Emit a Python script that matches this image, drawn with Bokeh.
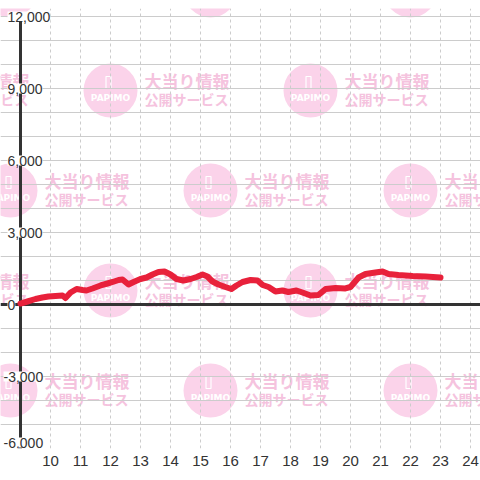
from bokeh.plotting import figure
from bokeh.models import (Range1d, FixedTicker, Span, LabelSet, ColumnDataSource,
                          Grid, BoxAnnotation)
from bokeh.core.properties import value
from bokeh.embed import file_html
from bokeh.resources import INLINE

# ---- data ----
hours = [9.0, 9.23, 9.5, 9.73, 9.93, 10.17, 10.4, 10.5, 10.67, 10.87, 11.07, 11.2,
         11.4, 11.67, 11.9, 12.07, 12.27, 12.4, 12.6, 12.77, 13.0, 13.2, 13.4, 13.6,
         13.8, 14.0, 14.2, 14.43, 14.67, 14.87, 15.07, 15.23, 15.4, 15.6, 15.83, 16.03,
         16.2, 16.4, 16.67, 16.9, 17.07, 17.27, 17.5, 17.73, 17.93, 18.2, 18.4, 18.67,
         18.93, 19.17, 19.5, 19.83, 20.0, 20.27, 20.5, 20.83, 21.07, 21.27, 21.6, 22.07,
         22.5, 23.0]
balance = [40, 125, 229, 292, 333, 354, 375, 271, 500, 646, 604, 583,
           667, 792, 875, 938, 1021, 1042, 833, 938, 1063, 1125, 1250, 1354,
           1375, 1250, 1063, 1000, 1063, 1146, 1250, 1167, 958, 833, 729, 646,
           792, 938, 1021, 1000, 813, 729, 542, 583, 521, 583, 500, 375,
           396, 646, 688, 667, 729, 1125, 1271, 1333, 1375, 1271, 1229, 1188,
           1167, 1125]
y_ticks = [-6000, -3000, 0, 3000, 6000, 9000, 12000]
x_ticks = list(range(10, 25))
y_labels = [f"{v:,}" for v in y_ticks]
grid_steps = [v for v in range(-6000, 12001, 1000) if v != 0]
x_axis_at = 9
wm_line1 = "大当り情報"
wm_line2 = "公開サービス"
wm_logo = "PAPIMO"

# ---- figure: 30 px per hour, 24 px per 1000 ----
PXH = 30.0
PXV = 0.024
X0 = x_axis_at - 20 / PXH
X1 = x_axis_at + 460 / PXH
Y0 = -6000
Y1 = 12000 + 8 / PXV
FRAME_TOP, FRAME_BOTTOM = 8, 448
p = figure(width=480, height=480, output_backend="svg", toolbar_location=None,
           x_range=Range1d(X0, X1), y_range=Range1d(Y0, Y1),
           y_axis_location=None, x_axis_location="below",
           min_border_left=0, min_border_right=0, min_border_top=8, min_border_bottom=32,
           background_fill_color="white", border_fill_color="white")
p.outline_line_color = None

# ---- watermark (background decoration, placed in pixels) ----
def dx(px):
    return x_axis_at + (px - 20) / PXH

def dy(py):
    return (304 - py) / PXV

def inside(py):
    return FRAME_TOP + 4 <= py <= FRAME_BOTTOM - 4

wm_cx, wm_cy = [], []
for i, cy in enumerate(range(-10, 491, 100)):
    for cx in ([10, 210, 410] if i % 2 == 0 else [-90, 110, 310]):
        wm_cx.append(cx)
        wm_cy.append(cy)

circ = [(cx, cy) for cx, cy in zip(wm_cx, wm_cy) if cy - 27 < FRAME_BOTTOM and cx + 27 > 0]
p.scatter([dx(c[0]) for c in circ], [dy(c[1]) for c in circ], size=54,
          fill_color="#fbd3ea", line_color=None, level="image")
icon = [(cx, cy) for cx, cy in circ if inside(cy - 8) and cx > 0]
p.rect([dx(c[0] - 2) for c in icon], [dy(c[1] - 8) for c in icon], width=5, height=12,
       width_units="screen", height_units="screen", fill_color=None,
       line_color="white", line_width=1.2, level="image")
logo = [(cx, cy) for cx, cy in circ if inside(cy + 7) and cx > 0]
p.text([dx(c[0]) for c in logo], [dy(c[1] + 7) for c in logo], text=[wm_logo] * len(logo),
       text_font=value("DejaVu Sans"), text_font_size="9px", text_font_style="bold",
       text_color="white", text_align="center", text_baseline="middle", level="image")
t1 = [(cx, cy) for cx, cy in zip(wm_cx, wm_cy) if inside(cy - 10)]
p.text([dx(c[0] + 34) for c in t1], [dy(c[1] - 10) for c in t1], text=[wm_line1] * len(t1),
       text_font=value("Noto Sans CJK JP"), text_font_size="17px", text_font_style="bold",
       text_color="#f5c3de", text_align="left", text_baseline="middle", level="image")
t2 = [(cx, cy) for cx, cy in zip(wm_cx, wm_cy) if inside(cy + 8)]
p.text([dx(c[0] + 34) for c in t2], [dy(c[1] + 8) for c in t2], text=[wm_line2] * len(t2),
       text_font=value("Noto Sans CJK JP"), text_font_size="14px", text_font_style="bold",
       text_color="#f5c3de", text_align="left", text_baseline="middle", level="image")

# ---- grids ----
if len(p.xgrid) == 0:
    p.add_layout(Grid(dimension=0))
if len(p.ygrid) == 0:
    p.add_layout(Grid(dimension=1))
p.xgrid.ticker = FixedTicker(ticks=x_ticks)
p.xgrid.grid_line_color = "#cccccc"
p.xgrid.grid_line_dash = "3 3"
p.xgrid.grid_line_width = 1
p.ygrid.ticker = FixedTicker(ticks=grid_steps)
p.ygrid.grid_line_color = "#cccccc"
p.ygrid.grid_line_width = 1

# ---- axis lines ----
p.add_layout(BoxAnnotation(left=x_axis_at - 1.5 / PXH, right=x_axis_at + 1.5 / PXH,
                           bottom=min(y_ticks), top=max(y_ticks),
                           fill_color="#333333", fill_alpha=1, line_color=None,
                           level="underlay"))
p.add_layout(Span(location=0, dimension="width", line_color="#333333",
                  line_width=3, level="underlay"))

# ---- series ----
p.line(hours, balance, line_width=6, line_color="#e8213b",
       line_join="round", line_cap="round")

# ---- x axis ----
p.xaxis.ticker = FixedTicker(ticks=x_ticks)
p.xaxis.axis_line_color = None
p.xaxis.major_tick_line_color = None
p.xaxis.minor_tick_line_color = None
p.xaxis.major_tick_out = 0
p.xaxis.major_label_standoff = 7
p.xaxis.major_label_text_font_size = "15px"
p.xaxis.major_label_text_color = "#333333"
p.xaxis.major_label_text_font = "Liberation Sans"

# ---- y labels ----
lsrc = ColumnDataSource(dict(
    x=[x_axis_at] * len(y_ticks), y=y_ticks, text=y_labels,
    xo=[-17 if v < 0 else -13 for v in y_ticks],
    yo=[6 if v == min(y_ticks) else 0 for v in y_ticks]))
p.add_layout(LabelSet(x="x", y="y", text="text", x_offset="xo", y_offset="yo",
                      source=lsrc, text_align="left", text_baseline="middle",
                      text_font_size="14px", text_color="#333333",
                      text_font=value("Liberation Sans"),
                      background_fill_color="white"))

open("out.html", "w").write(file_html(p, INLINE))
